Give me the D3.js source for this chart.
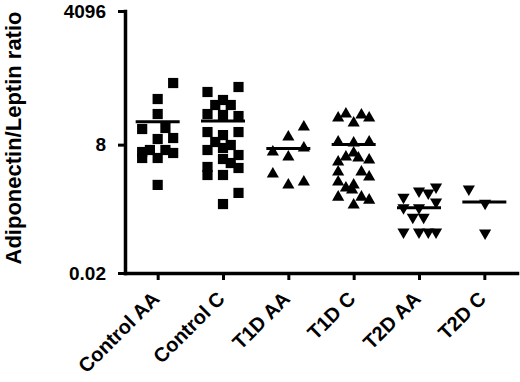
<!DOCTYPE html>
<html>
<head>
<meta charset="utf-8">
<script src="https://cdn.jsdelivr.net/npm/d3@7"></script>
<style>
    html, body { margin: 0; padding: 0; background: #fff; }
    svg { display: block; }
    text { font-family: "Liberation Sans", Arial, sans-serif; font-weight: bold; fill: #000; }
</style>
</head>
<body>
<div id="chart"></div>
<script>
// --- Data ---
const groups = ["Control AA", "Control C", "T1D AA", "T1D C", "T2D AA", "T2D C"];
const yTicks = [0.02, 8, 4096];

// ratio values per group, with the swarm column each dot sits in (-2..2)
const controlAA = [142, 67.3, 33.4, 16.6, 17.4, 10.9, 10.4, 5.67, 4.29, 6.23, 4.29, 6.23, 5.42, 1.22];
const controlAACol = [2, 0, 0, -2, 1, 2, 0, -2, -2, -1, 0, 1, 2, 0];

const controlC = [93.4, 117.9, 64.3, 50.9, 50.9, 33.4, 31.9, 30.4, 14.4, 14.4, 12.5, 9.05,
    7.87, 6.23, 6.84, 4.93, 4.09, 3.39, 2.69, 2.82, 1.94, 1.94, 0.84, 0.5];
const controlCCol = [-2, 2, 0, -1, 1, -2, 0, 2, -2, 2, 0, -1, 1, -2, 0, 2, 0, 1, 2, -2, -2, 0, 2, 0];

const t1dAA = [18.2, 11.4, 5.67, 6.84, 4.49, 2.03, 1.22, 1.4];
const t1dAACol = [2, 0, -2, 2, 0, -2, 0, 2];

const t1dC = [27.7, 33.4, 22.0, 31.9, 27.7, 9.05, 8.63, 9.05, 3.56, 4.49, 5.42, 4.29,
    3.9, 2.23, 1.4, 2.23, 1.77, 1.06, 1.22, 0.96, 0.69, 0.69, 0.6, 0.48];
const t1dCCol = [-2, -1, 0, 1, 2, -2, 0, 2, -2, -1, 0, 0.6, 2, -2, -2, 1, 2, -1, 0, -0.2, -2, 1, 2, 0];

const t2dAA = [1.11, 0.92, 0.84, 0.69, 0.55, 0.42, 0.42, 0.27, 0.27, 0.136, 0.136, 0.136, 0.136];
const t2dAACol = [2.2, 0, 1.2, -2, 2.2, -2, 0, -0.8, 0.6, -2, 0, 1.2, 2.2];

const t2dC = [1.01, 0.52, 0.129];
const t2dCCol = [-2, 0.1, 0.1];

// horizontal bar drawn across each group
const groupMeans = [23.3, 24.1, 6.68, 8.05, 0.421, 0.55];

(function () {
    "use strict";

    var values = [controlAA, controlC, t1dAA, t1dC, t2dAA, t2dC];
    var cols = [controlAACol, controlCCol, t1dAACol, t1dCCol, t2dAACol, t2dCCol];
    var shapes = ["square", "square", "up", "up", "down", "down"];

    var W = 520, H = 382;
    var svg = d3.select("#chart").append("svg")
        .attr("width", W)
        .attr("height", H);

    // --- Scales ---
    var x = d3.scalePoint().domain(groups).range([125, 517]).padding(0.5);
    var y = d3.scaleLog().base(2).domain([0.02, 4096]).range([273, 11]);
    var jitter = d3.scaleLinear().domain([-2, 2]).range([-15.5, 15.5]);

    var symbols = {
        square: d3.symbol().type(d3.symbolSquare).size(104),
        up: d3.symbol().type(d3.symbolTriangle).size(64),
        down: d3.symbol().type(d3.symbolTriangle).size(64)
    };

    // --- Axes ---
    var yAxis = svg.append("g")
        .attr("transform", "translate(125,0)")
        .call(d3.axisLeft(y).tickValues(yTicks).tickSize(7).tickSizeOuter(0)
            .tickPadding(12).tickFormat(function (d) { return String(d); }));

    var xAxis = svg.append("g")
        .attr("transform", "translate(0,273)")
        .call(d3.axisBottom(x).tickSize(7).tickSizeOuter(0).tickFormat(""));

    [yAxis, xAxis].forEach(function (g) {
        g.select(".domain").attr("stroke", "#000").attr("stroke-width", 3.5)
            .attr("stroke-linecap", "square");
        g.selectAll(".tick line").attr("stroke", "#000").attr("stroke-width", 3);
    });
    yAxis.selectAll(".tick text")
        .attr("font-size", 19)
        .attr("font-family", null)
        .attr("fill", "#000");

    // rotated category labels
    svg.append("g").selectAll("text")
        .data(groups)
        .join("text")
        .attr("transform", function (d) { return "translate(" + (x(d) + 3) + ",300) rotate(-45)"; })
        .attr("text-anchor", "end")
        .attr("font-size", 20)
        .text(function (d) { return d; });

    // y title
    svg.append("text")
        .attr("transform", "translate(21,138) rotate(-90)")
        .attr("text-anchor", "middle")
        .attr("font-size", 22)
        .text("Adiponectin/Leptin ratio");

    // --- Dots ---
    groups.forEach(function (g, i) {
        var pts = values[i].map(function (v, j) { return { v: v, c: cols[i][j] }; });
        svg.append("g").selectAll("path")
            .data(pts)
            .join("path")
            .attr("d", symbols[shapes[i]])
            .attr("fill", "#000")
            .attr("transform", function (d) {
                var t = "translate(" + (x(g) + jitter(d.c)) + "," + y(d.v) + ")";
                return shapes[i] === "down" ? t + " rotate(180)" : t;
            });
    });

    // --- Mean bars ---
    svg.append("g").selectAll("line")
        .data(groups)
        .join("line")
        .attr("x1", function (d) { return x(d) - 22; })
        .attr("x2", function (d) { return x(d) + 22; })
        .attr("y1", function (d, i) { return y(groupMeans[i]); })
        .attr("y2", function (d, i) { return y(groupMeans[i]); })
        .attr("stroke", "#000")
        .attr("stroke-width", 3);
})();
</script>
</body>
</html>
